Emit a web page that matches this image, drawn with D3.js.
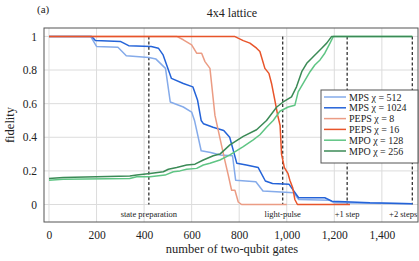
<!DOCTYPE html>
<html>
<head>
<meta charset="utf-8">
<script src="https://cdn.jsdelivr.net/npm/d3@7"></script>
<style>
  body { margin: 0; background: #fff; }
  text { font-family: "Liberation Serif", "DejaVu Serif", serif; fill: #222; }
</style>
</head>
<body>
<div id="chart"></div>
<script>
// ---- data ----
var seriesNames = ["MPS \u03c7 = 512", "MPS \u03c7 = 1024", "PEPS \u03c7 = 8", "PEPS \u03c7 = 16", "MPO \u03c7 = 128", "MPO \u03c7 = 256"];
var seriesColors = ["#85abea", "#2463d8", "#eb9c84", "#e8542a", "#5fc584", "#3b8a56"];

var mps512 = [[0,1],[175,1],[200,0.94],[290,0.935],[325,0.885],[420,0.875],[450,0.865],[490,0.81],[510,0.61],[565,0.58],[600,0.55],[612,0.5],[640,0.32],[680,0.31],[720,0.295],[772,0.29],[785,0.145],[870,0.135],[900,0.08],[1030,0.07],[1050,0.03],[1180,0.025],[1200,0.01],[1528,0.005]];
var mps1024 = [[0,1],[180,1],[195,0.975],[300,0.97],[335,0.945],[430,0.94],[460,0.93],[480,0.89],[515,0.75],[565,0.72],[605,0.70],[625,0.62],[640,0.5],[650,0.48],[690,0.46],[735,0.44],[760,0.40],[790,0.245],[830,0.235],[880,0.22],[910,0.14],[940,0.125],[1010,0.12],[1050,0.04],[1160,0.04],[1190,0.02],[1350,0.01],[1528,0.005]];
var peps8 = [[0,1],[537,1],[565,0.98],[600,0.95],[621,0.90],[642,0.90],[656,0.85],[677,0.81],[698,0.53],[740,0.26],[754,0.175],[768,0.085],[782,0.085],[796,0.015],[810,0],[1000,0]];
var peps16 = [[0,1],[780,1],[817,0.975],[845,0.96],[873,0.93],[887,0.91],[908,0.81],[925,0.78],[936,0.72],[950,0.62],[962,0.53],[972,0.47],[978,0.3],[990,0.22],[1005,0.185],[1013,0.145],[1025,0.1],[1034,0.03],[1045,0],[1266,0]];
var mpo128 = [[0,0.145],[60,0.15],[340,0.155],[369,0.165],[425,0.165],[488,0.175],[523,0.195],[551,0.2],[579,0.21],[621,0.215],[649,0.235],[677,0.245],[719,0.265],[761,0.295],[817,0.345],[859,0.385],[887,0.415],[915,0.46],[943,0.5],[971,0.555],[1006,0.58],[1034,0.59],[1048,0.67],[1077,0.74],[1098,0.79],[1118,0.83],[1140,0.86],[1160,0.9],[1182,0.96],[1196,1],[1528,1]];
var mpo256 = [[0,0.155],[60,0.16],[340,0.17],[369,0.175],[425,0.185],[481,0.195],[502,0.21],[537,0.22],[579,0.235],[614,0.24],[649,0.265],[691,0.29],[719,0.3],[761,0.355],[817,0.405],[873,0.445],[915,0.5],[958,0.58],[985,0.61],[1020,0.64],[1041,0.70],[1063,0.79],[1084,0.84],[1105,0.87],[1126,0.9],[1147,0.93],[1168,0.96],[1189,1],[1528,1]];
var allSeries = [mps512, mps1024, peps8, peps16, mpo128, mpo256];

var xTicks = [0, 200, 400, 600, 800, 1000, 1200, 1400];
var yTicks = [0, 0.2, 0.4, 0.6, 0.8, 1];
var markerX = [420, 983, 1254, 1528];
var markerLabels = ["state preparation", "light-pulse", "+1 step", "+2 steps"];

// ---- layout ----
var W = 419, H = 261;
var margin = {top: 28, right: 1, bottom: 39, left: 44};
var width = W - margin.left - margin.right,
    height = H - margin.top - margin.bottom;

var svg = d3.select("#chart").append("svg")
    .attr("width", W).attr("height", H);

var g = svg.append("g")
    .attr("transform", "translate(" + margin.left + "," + margin.top + ")");

var x = d3.scaleLinear().domain([-21, 1552]).range([0, width]);
var y = d3.scaleLinear().domain([-0.104, 1.05]).range([height, 0]);

// grid
g.append("g").selectAll("line").data(xTicks).enter().append("line")
    .attr("x1", function(d) { return x(d); }).attr("x2", function(d) { return x(d); })
    .attr("y1", 0).attr("y2", height)
    .attr("stroke", "#dcdcdc").attr("stroke-width", 1);
g.append("g").selectAll("line").data(yTicks).enter().append("line")
    .attr("y1", function(d) { return y(d); }).attr("y2", function(d) { return y(d); })
    .attr("x1", 0).attr("x2", width)
    .attr("stroke", "#dcdcdc").attr("stroke-width", 1);

// axes (labels only)
var xAxis = g.append("g")
    .attr("transform", "translate(0," + height + ")")
    .call(d3.axisBottom(x).tickValues(xTicks).tickFormat(d3.format(",")).tickSize(0).tickPadding(9));
var yAxis = g.append("g")
    .call(d3.axisLeft(y).tickValues(yTicks).tickFormat(function(d) { return d3.format("")(+d.toFixed(1)); }).tickSize(0).tickPadding(7));
[xAxis, yAxis].forEach(function(a) {
  a.select(".domain").remove();
  a.selectAll("text").style("font-family", "'Liberation Serif', serif").style("font-size", "11.5px").attr("fill", "#222");
});

// dashed markers
g.append("g").selectAll("line").data(markerX).enter().append("line")
    .attr("x1", function(d) { return x(d); }).attr("x2", function(d) { return x(d); })
    .attr("y1", y(1)).attr("y2", y(0))
    .attr("stroke", "#222").attr("stroke-width", 1.2).attr("stroke-dasharray", "3,2.2");

// series
var line = d3.line().x(function(d) { return x(d[0]); }).y(function(d) { return y(d[1]); });
g.append("g").selectAll("path").data(allSeries).enter().append("path")
    .attr("d", line)
    .attr("fill", "none")
    .attr("stroke", function(d, i) { return seriesColors[i]; })
    .attr("stroke-width", 1.5)
    .attr("stroke-linejoin", "round");

// marker labels
g.append("g").selectAll("text").data(markerX).enter().append("text")
    .attr("x", function(d, i) { return i == 3 ? x(d) + 5 : x(d); })
    .attr("y", y(0) + 12)
    .attr("text-anchor", function(d, i) { return i == 3 ? "end" : "middle"; })
    .style("font-size", "8.5px")
    .text(function(d, i) { return markerLabels[i]; });

// frame
g.append("rect")
    .attr("width", width).attr("height", height)
    .attr("fill", "none").attr("stroke", "#555").attr("stroke-width", 1);

// legend
var lg = g.append("g").attr("transform", "translate(" + (321 - margin.left) + "," + (90 - margin.top) + ")");
lg.append("rect").attr("width", 97).attr("height", 73)
    .attr("fill", "#fff").attr("stroke", "#555").attr("stroke-width", 1);
seriesNames.forEach(function(name, i) {
  var yy = 7 + i * 10.8;
  lg.append("line").attr("x1", 3).attr("x2", 25).attr("y1", yy).attr("y2", yy)
      .attr("stroke", seriesColors[i]).attr("stroke-width", 1.5);
  lg.append("text").attr("x", 28).attr("y", yy + 3.5)
      .style("font-size", "10px").text(name);
});

// titles
svg.append("text").attr("x", 232).attr("y", 17).attr("text-anchor", "middle")
    .style("font-size", "12px").text("4x4 lattice");
svg.append("text").attr("x", 37).attr("y", 13)
    .style("font-size", "11px").text("(a)");
svg.append("text").attr("x", 232).attr("y", 253).attr("text-anchor", "middle")
    .style("font-size", "12.5px").text("number of two-qubit gates");
svg.append("text").attr("transform", "translate(14," + (margin.top + height / 2) + ") rotate(-90)")
    .attr("text-anchor", "middle")
    .style("font-size", "12.5px").text("fidelity");
</script>
</body>
</html>
